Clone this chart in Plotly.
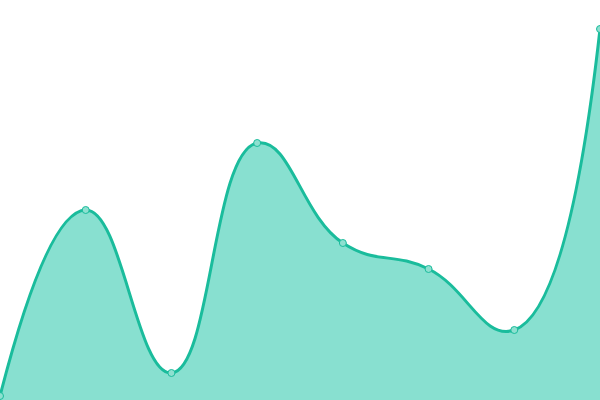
import plotly.graph_objects as go

# data
categories = [0, 1, 2, 3, 4, 5, 6, 7]
values = [1, 47.5, 6.75, 64.25, 39.25, 32.75, 17.5, 92.75]

line_color = '#1abc9c'
fill_color = '#88e0d0'

fig = go.Figure()
fig.add_trace(go.Scatter(
    x=categories, y=values,
    mode='lines+markers',
    line=dict(color=line_color, width=3, shape='spline', smoothing=1.3),
    marker=dict(size=7, color='#8ee0d0', line=dict(color=line_color, width=1)),
    fill='tozeroy', fillcolor=fill_color,
    cliponaxis=False,
    hoverinfo='x+y',
))

fig.update_layout(
    width=600, height=400,
    margin=dict(l=0, r=0, t=0, b=0),
    plot_bgcolor='white', paper_bgcolor='white',
    showlegend=False,
    xaxis=dict(range=[0, 7], visible=False, fixedrange=True),
    yaxis=dict(range=[0, 100], visible=False, fixedrange=True),
)

# page body has an 8px margin by default, drop it so the plot sits at 0,0
fig.write_html(
    "out.html",
    config={'displayModeBar': False},
    post_script="document.body.style.margin='0';document.body.style.overflow='hidden';",
)
